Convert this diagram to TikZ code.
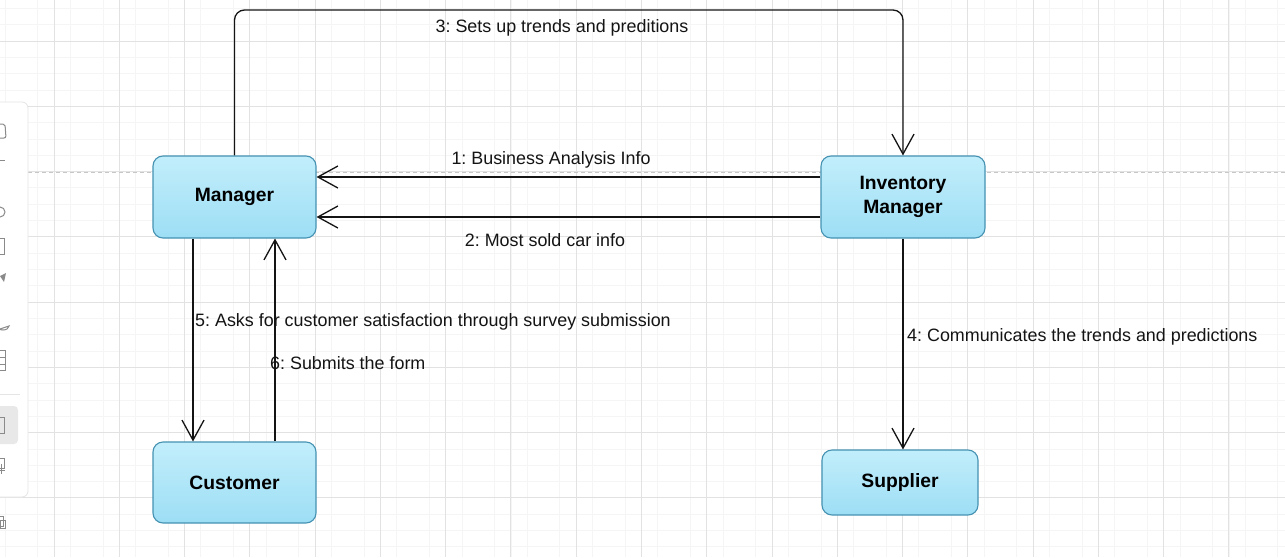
\documentclass[tikz,border=0pt]{standalone}
\usepackage{fontspec}
\setmainfont{Liberation Sans}
\frenchspacing
\usetikzlibrary{arrows.meta}
\definecolor{boxtop}{HTML}{C2EEFB}
\definecolor{boxbot}{HTML}{9DDEF5}
\definecolor{boxline}{HTML}{4592B2}
\definecolor{gridminor}{HTML}{F5F5F5}
\definecolor{gridmajor}{HTML}{E2E2E2}
\definecolor{icon}{HTML}{8A8A8A}
\definecolor{ink}{HTML}{141414}
\tikzset{
  entity/.style={draw=boxline, line width=1.1pt, rounded corners=10pt,
    top color=boxtop, bottom color=boxbot, font=\fontsize{19.3}{23.5}\selectfont\bfseries,
    align=center, inner sep=0pt},
  arr/.style={draw=ink, line width=1.3pt, -{Straight Barb[length=20pt,width=22pt,line width=1.3pt]}},
  lbl/.style={font=\fontsize{17.9}{21}\selectfont, text=ink, inner sep=0pt},
  minorline/.style={draw=gridminor, line width=0.8pt},
  majorline/.style={draw=gridmajor, line width=0.9pt},
  iconline/.style={draw=icon, line width=1pt}
}
\begin{document}
\begin{tikzpicture}[x=1pt,y=-1pt]
\useasboundingbox (0,0) rectangle (1285,557);
\fill[white] (0,0) rectangle (1285,557);
% grid
\foreach \i in {-3,...,75} {
  \pgfmathtruncatemacro{\m}{mod(\i+40,4)}
  \ifnum\m=2 \else \draw[minorline] ({54+\i*16.318},0) -- ++(0,557); \fi
}
\foreach \j in {-2,...,32} {
  \pgfmathtruncatemacro{\m}{mod(\j+40,4)}
  \ifnum\m=0 \else \draw[minorline] (0,{41+\j*16.318}) -- ++(1285,0); \fi
}
\foreach \i in {-1,...,19} { \draw[majorline] ({54+\i*65.27},0) -- ++(0,557); }
\foreach \j in {0,...,8} { \draw[majorline] (0,{41+\j*65.27}) -- ++(1285,0); }
% page break line
\draw[draw=black!22, line width=0.9pt, dash pattern=on 4pt off 3pt] (0,172) -- (1285,172);
% left toolbar remnant
\draw[draw=black!10, fill=white, line width=0.8pt, rounded corners=6pt] (-12,102) rectangle (28,497);
\draw[draw=black!10, line width=0.8pt] (0,394) -- (20,394);
\fill[black!9, rounded corners=4pt] (-8,406) rectangle (18,444);
\begin{scope}[iconline]
  \draw[rounded corners=2pt] (-3,124) -- (5,124) -- (6,138) -- (-3,138);
  \draw (0,160) -- (5,160);
  \draw (0,212) circle (5);
  \draw (-3,238) rectangle (4,254);
  \fill[icon] (0,276) -- (6,273) -- (4,282) -- cycle;
  \draw (-3,326) arc (180:0:6 and 4) -- (-3,330);
  \draw (-3,350) rectangle (5,370); \draw (-3,357) -- (5,357); \draw (-3,364) -- (5,364);
  \draw (-3,417) rectangle (4,433);
  \draw (-3,458) rectangle (4,468); \draw (1,464) -- (1,474); \draw (-3,470) -- (5,470);
  \draw (-3,516) rectangle (3,526); \draw (0,520) rectangle (5,528);
\end{scope}
% nodes
\node[entity, minimum width=163pt, minimum height=82pt] (mgr) at (234.5,197) {Manager};
\node[entity, minimum width=164pt, minimum height=82pt] (inv) at (903,197) {Inventory\\Manager};
\node[entity, minimum width=163pt, minimum height=81pt] (cust) at (234.5,482.5) {Customer};
\node[entity, minimum width=156pt, minimum height=65pt] (sup) at (900,482.5) {Supplier};
% helper coordinates
\coordinate (y1) at (0,177);
\coordinate (y2) at (0,217);
\coordinate (top) at (568,10);
\coordinate (x5) at (193,0);
\coordinate (x6) at (275,0);
% labels
\node[lbl] (l1) at (551,160) {1: Business Analysis Info};
\node[lbl] (l2) at (545,240) {2: Most sold car info};
\node[lbl] (l3) at (562,28) {3: Sets up trends and preditions};
\node[lbl, anchor=west] (l4) at (907,337) {4: Communicates the trends and predictions};
\node[lbl, anchor=west] (l5) at (195,322) {5: Asks for customer satisfaction through survey submission};
\node[lbl, anchor=west] (l6) at (270,363) {6: Submits the form};
% connectors
\draw[arr] (inv.west |- y1) -- (mgr.east |- y1);
\draw[arr] (inv.west |- y2) -- (mgr.east |- y2);
\draw[arr, rounded corners=10pt] (mgr.north) |- (top) -| (inv.north);
\draw[arr] (inv.south) -- (inv.south |- sup.north);
\draw[arr] (mgr.south -| x5) -- (cust.north -| x5);
\draw[arr] (cust.north -| x6) -- (mgr.south -| x6);
\end{tikzpicture}
\end{document}
